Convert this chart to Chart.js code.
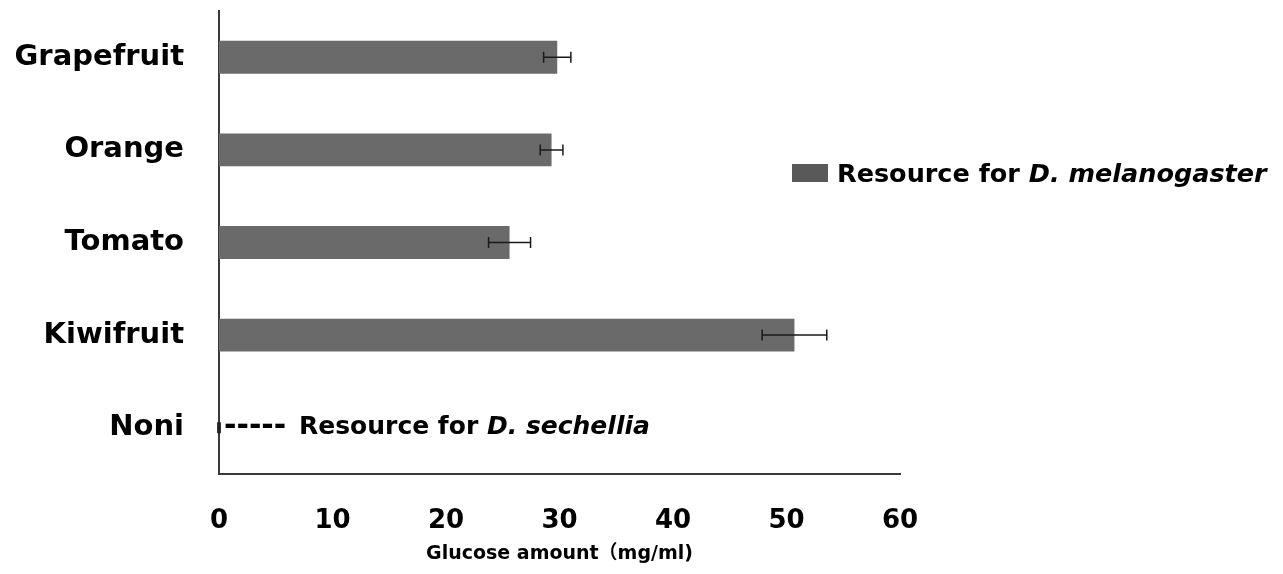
<!DOCTYPE html>
<html>
<head>
<meta charset="utf-8">
<script src="https://cdn.jsdelivr.net/npm/chart.js@4.4.0/dist/chart.umd.min.js"></script>
<style>
  html, body { margin: 0; padding: 0; background: #fff; }
  #wrap { width: 1283px; height: 574px; }
</style>
</head>
<body>
<div id="wrap"><canvas id="glucoseChart" width="1283" height="574"></canvas></div>
<script>
// Glucose content of fruit resources (mean ± error)
const categories = ['Grapefruit', 'Orange', 'Tomato', 'Kiwifruit', 'Noni'];
const glucose = [29.8, 29.3, 25.6, 50.7, 0];
const glucoseErr = [1.2, 1.0, 1.85, 2.85, 0.1];
const xTicks = [0, 10, 20, 30, 40, 50, 60];

const FONT = "'DejaVu Sans', 'Noto Sans CJK JP', sans-serif";
const BAR_COLOR = '#6a6a6a';
const KEY_COLOR = '#595959';

// horizontal error bars with end caps
const errorBars = {
  id: 'errorBars',
  afterDatasetsDraw(chart) {
    const { ctx, scales: { x, y } } = chart;
    ctx.save();
    ctx.strokeStyle = '#1a1a1a';
    ctx.lineWidth = 1.5;
    glucose.forEach((v, i) => {
      const yc = y.getPixelForValue(i);
      const x0 = x.getPixelForValue(v - glucoseErr[i]);
      const x1 = x.getPixelForValue(v + glucoseErr[i]);
      const cap = 5.5;
      ctx.beginPath();
      ctx.moveTo(x0, yc); ctx.lineTo(x1, yc);
      ctx.moveTo(x0, yc - cap); ctx.lineTo(x0, yc + cap);
      ctx.moveTo(x1, yc - cap); ctx.lineTo(x1, yc + cap);
      ctx.stroke();
    });
    ctx.restore();
  }
};

// draws "plain" + "italic" runs one after another
function drawRuns(ctx, runs, x, y, size) {
  ctx.textBaseline = 'middle';
  ctx.textAlign = 'left';
  runs.forEach(([txt, italic]) => {
    ctx.font = `${italic ? 'italic ' : ''}bold ${size}px ${FONT}`;
    ctx.fillText(txt, x, y);
    x += ctx.measureText(txt).width;
  });
}

// legend key and the Noni annotation
const notes = {
  id: 'notes',
  afterDraw(chart) {
    const { ctx, scales: { x, y } } = chart;
    ctx.save();
    ctx.fillStyle = KEY_COLOR;
    ctx.fillRect(792, 164, 36, 18);
    ctx.fillStyle = '#000';
    drawRuns(ctx, [['Resource for ', false], ['D. melanogaster', true]], 837, 175, 25.5);

    const yn = y.getPixelForValue(categories.indexOf('Noni'));
    const xn = x.getPixelForValue(0);
    ctx.font = `bold 30px ${FONT}`;
    ctx.textBaseline = 'middle';
    ctx.fillText('-----', xn + 5, yn);
    drawRuns(ctx, [['Resource for ', false], ['D. sechellia', true]], xn + 80, yn, 25);
    ctx.restore();
  }
};

new Chart(document.getElementById('glucoseChart'), {
  type: 'bar',
  data: {
    labels: categories,
    datasets: [{
      data: glucose,
      backgroundColor: BAR_COLOR,
      borderWidth: 0,
      categoryPercentage: 1,
      barPercentage: 0.355
    }]
  },
  options: {
    indexAxis: 'y',
    responsive: false,
    animation: false,
    layout: { padding: { top: 11, right: 383, left: 0, bottom: 0 } },
    plugins: { legend: { display: false }, tooltip: { enabled: false } },
    scales: {
      x: {
        min: 0, max: 60,
        afterFit(s) { s.height = 100; },
        afterBuildTicks(s) { s.ticks = xTicks.map(v => ({ value: v })); },
        grid: { display: false, drawTicks: false },
        border: { display: true, color: '#3a3a3a', width: 2 },
        ticks: { color: '#000', padding: 32, font: { family: FONT, size: 26, weight: 'bold' } },
        title: {
          display: true,
          text: 'Glucose amount（mg/ml)',
          color: '#000',
          font: { family: FONT, size: 19, weight: 'bold' },
          padding: { top: 0, bottom: 9 }
        }
      },
      y: {
        afterFit(s) { s.width = 219; s.paddingTop = 0; s.paddingBottom = 0; },
        grid: { display: false, drawTicks: false },
        border: { display: true, color: '#3a3a3a', width: 2 },
        ticks: { color: '#000', padding: 35, font: { family: FONT, size: 29, weight: 'bold' } }
      }
    }
  },
  plugins: [errorBars, notes]
});
</script>
</body>
</html>
